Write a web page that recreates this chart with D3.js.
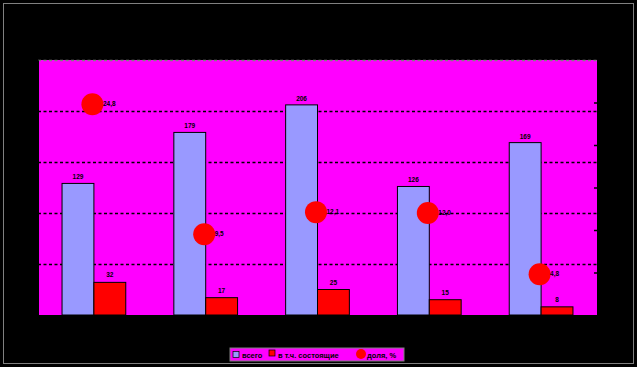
<!DOCTYPE html>
<html>
<head>
<meta charset="utf-8">
<script src="https://cdn.jsdelivr.net/npm/d3@7"></script>
<style>
  body { margin: 0; background: #000; }
  svg { display: block; }
  .tiny { font-family: "Liberation Sans", Arial, sans-serif; font-size: 6.5px; font-weight: bold; }
</style>
</head>
<body>
<div id="chart"></div>
<script>
// values
var categories = ["2008", "2009", "2010", "2011", "2012"];
var total = [129, 179, 206, 126, 169];
var subset = [32, 17, 25, 15, 8];
var share = [24.8, 9.5, 12.1, 12.0, 4.8];
var shareLabels = ["24,8", "9,5", "12,1", "12,0", "4,8"];
var leftTicks = [0, 50, 100, 150, 200, 250];
var rightTicks = [5, 10, 15, 20, 25];
var legendNames = ["всего", "в т.ч. состоящие", "доля, %"];

var W = 637, H = 367;
var margin = {top: 60, right: 40, bottom: 52, left: 38},
    width = 597 - margin.left,
    height = 315 - margin.top;

var svg = d3.select("#chart").append("svg")
    .attr("width", W)
    .attr("height", H);

svg.append("rect")
    .attr("width", W).attr("height", H)
    .attr("fill", "#000");

// thin outer frame
svg.append("rect")
    .attr("x", 3.5).attr("y", 3.5)
    .attr("width", W - 7).attr("height", H - 7)
    .attr("fill", "none")
    .attr("stroke", "#808080");

var g = svg.append("g")
    .attr("transform", "translate(" + margin.left + "," + margin.top + ")");

var x = d3.scaleBand()
    .domain(categories)
    .range([0, width])
    .paddingInner(0.43)
    .paddingOuter(0.215);

var x1 = d3.scaleBand()
    .domain(["total", "subset"])
    .range([0, x.bandwidth()]);

var y = d3.scaleLinear()
    .domain([0, 250])
    .range([height, 0]);

var y2 = d3.scaleLinear()
    .domain([0, 30])
    .range([height, 0]);

// plot area
g.append("rect")
    .attr("width", width)
    .attr("height", height)
    .attr("fill", "#ff00ff");

// gridlines
var grid = g.append("g")
    .call(d3.axisLeft(y).tickValues(leftTicks.slice(1)).tickSize(-width).tickFormat(""));
grid.select(".domain").remove();
grid.selectAll("line")
    .attr("stroke", function(d) { return d === 250 ? "#808080" : "#000"; })
    .attr("stroke-width", 1.6)
    .attr("stroke-dasharray", "3,2.5");

// bars
var groups = g.selectAll(".grp")
    .data(categories)
    .enter().append("g")
    .attr("transform", function(d) { return "translate(" + x(d) + ",0)"; });

groups.append("rect")
    .attr("x", x1("total"))
    .attr("y", function(d, i) { return y(total[i]); })
    .attr("width", x1.bandwidth())
    .attr("height", function(d, i) { return height - y(total[i]); })
    .attr("fill", "#9999ff")
    .attr("stroke", "#000")
    .attr("stroke-width", 1);

groups.append("rect")
    .attr("x", x1("subset"))
    .attr("y", function(d, i) { return y(subset[i]); })
    .attr("width", x1.bandwidth())
    .attr("height", function(d, i) { return height - y(subset[i]); })
    .attr("fill", "#ff0000")
    .attr("stroke", "#000")
    .attr("stroke-width", 1);

groups.append("text")
    .attr("class", "tiny")
    .attr("x", x1("total") + x1.bandwidth() / 2)
    .attr("y", function(d, i) { return y(total[i]) - 4; })
    .attr("text-anchor", "middle")
    .attr("fill", "#000")
    .text(function(d, i) { return total[i]; });

groups.append("text")
    .attr("class", "tiny")
    .attr("x", x1("subset") + x1.bandwidth() / 2)
    .attr("y", function(d, i) { return y(subset[i]) - 5; })
    .attr("text-anchor", "middle")
    .attr("fill", "#000")
    .text(function(d, i) { return subset[i]; });

// share dots
groups.append("circle")
    .attr("cx", x.bandwidth() / 2 - 1.5)
    .attr("cy", function(d, i) { return y2(share[i]); })
    .attr("r", 11)
    .attr("fill", "#ff0000");

groups.append("text")
    .attr("class", "tiny")
    .attr("x", x.bandwidth() / 2 + 9)
    .attr("y", function(d, i) { return y2(share[i]) + 2; })
    .attr("fill", "#000")
    .text(function(d, i) { return shareLabels[i]; });

// axes
var xAxis = g.append("g")
    .attr("transform", "translate(0," + height + ")")
    .call(d3.axisBottom(x).tickSize(0));
xAxis.selectAll("text").attr("fill", "#000").attr("font-size", 8);
xAxis.select(".domain").attr("stroke", "#000");

var yAxis = g.append("g")
    .call(d3.axisLeft(y).tickValues(leftTicks));
yAxis.selectAll("text").attr("fill", "#000");
yAxis.selectAll("line, .domain").attr("stroke", "#000");

var yAxis2 = g.append("g")
    .attr("transform", "translate(" + width + ",0)")
    .call(d3.axisRight(y2).tickValues(rightTicks).tickSize(-3).tickFormat(""));
yAxis2.select(".domain").remove();
yAxis2.selectAll("line").attr("stroke", "#000").attr("stroke-width", 1.5);

// legend
var lg = svg.append("g").attr("transform", "translate(230,348)");
lg.append("rect")
    .attr("width", 174).attr("height", 13)
    .attr("fill", "#ff00ff")
    .attr("stroke", "#808080");

var lx = [3, 39, 127];
lg.append("rect").attr("x", lx[0]).attr("y", 3.5).attr("width", 6).attr("height", 6)
    .attr("fill", "#9999ff").attr("stroke", "#000").attr("stroke-width", 0.7);
lg.append("rect").attr("x", lx[1]).attr("y", 2).attr("width", 6).attr("height", 6)
    .attr("fill", "#ff0000").attr("stroke", "#000").attr("stroke-width", 0.7);
lg.append("circle").attr("cx", lx[2] + 4).attr("cy", 6).attr("r", 5)
    .attr("fill", "#ff0000");

lg.selectAll(".lt")
    .data(legendNames)
    .enter().append("text")
    .attr("class", "lt")
    .attr("x", function(d, i) { return lx[i] + (i === 2 ? 10 : 9); })
    .attr("y", 9.5)
    .attr("font-family", "Liberation Sans, Arial, sans-serif")
    .attr("font-size", 7.5)
    .attr("font-weight", "bold")
    .attr("fill", "#000")
    .text(function(d) { return d; });
</script>
</body>
</html>
